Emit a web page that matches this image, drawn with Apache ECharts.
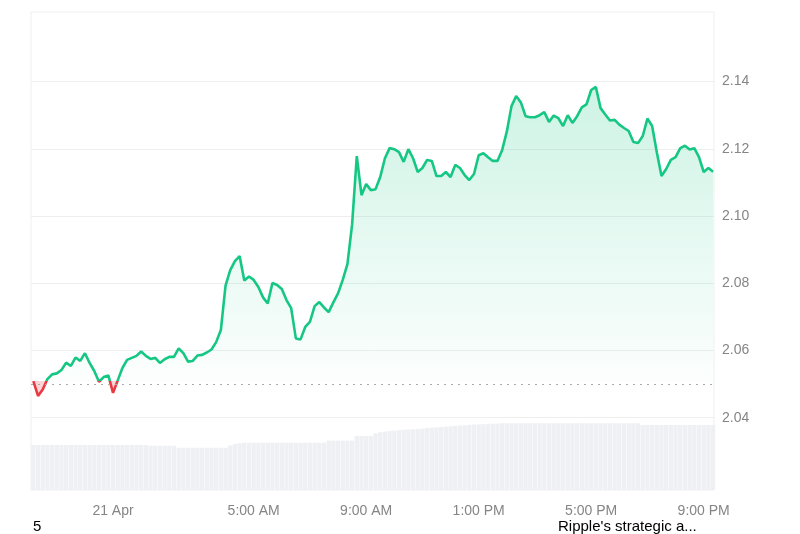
<!DOCTYPE html>
<html>
<head>
<meta charset="utf-8">
<script src="https://cdn.jsdelivr.net/npm/echarts@6.0.0/dist/echarts.min.js"></script>
<style>
html,body{margin:0;padding:0;background:#fff;}
#chart{width:800px;height:534px;}
</style>
</head>
<body>
<div id="chart"></div>
<script>
// ---- data (10-minute steps from 20 Apr 21:10) ----
const prices = [
2.0509,2.0465,2.0484,2.0515,2.0529,2.0532,2.0542,2.0564,2.0554,2.0579,
2.0569,2.0592,2.0563,2.0539,2.0507,2.0521,2.0526,2.0474,2.0511,2.0548,
2.0572,2.0578,2.0584,2.0597,2.0584,2.0575,2.0578,2.0563,2.0574,2.0581,
2.0581,2.0606,2.0592,2.0567,2.0569,2.0585,2.0587,2.0594,2.0603,2.0625,
2.0661,2.0793,2.0839,2.0866,2.0881,2.0808,2.0820,2.0810,2.0789,2.0758,
2.0740,2.0801,2.0795,2.0783,2.0750,2.0726,2.0636,2.0633,2.0670,2.0685,
2.0732,2.0744,2.0728,2.0714,2.0743,2.0770,2.0810,2.0857,2.0975,2.1178,
2.1062,2.1095,2.1077,2.1080,2.1116,2.1172,2.1202,2.1199,2.1190,2.1161,
2.1199,2.1172,2.1131,2.1143,2.1167,2.1164,2.1119,2.1119,2.1131,2.1116,
2.1152,2.1143,2.1122,2.1107,2.1125,2.1181,2.1187,2.1175,2.1164,2.1164,
2.1196,2.1251,2.1327,2.1357,2.1338,2.1297,2.1294,2.1294,2.1300,2.1309,
2.1280,2.1299,2.1291,2.1268,2.1300,2.1277,2.1297,2.1323,2.1332,2.1375,
2.1384,2.1321,2.1302,2.1284,2.1286,2.1272,2.1262,2.1253,2.1220,2.1217,
2.1238,2.1290,2.1268,2.1190,2.1119,2.1140,2.1167,2.1175,2.1202,2.1209,
2.1198,2.1202,2.1175,2.1131,2.1143,2.1132
];
const volumes = [
2.54,2.54,2.54,2.54,2.54,2.54,2.54,2.54,2.54,2.54,
2.54,2.54,2.54,2.54,2.54,2.54,2.54,2.54,2.54,2.54,
2.54,2.54,2.54,2.54,2.54,2.50,2.50,2.50,2.50,2.50,
2.50,2.39,2.39,2.39,2.39,2.39,2.39,2.39,2.39,2.39,
2.39,2.39,2.52,2.60,2.64,2.67,2.67,2.67,2.67,2.67,
2.67,2.67,2.67,2.67,2.67,2.67,2.67,2.67,2.67,2.67,
2.67,2.67,2.67,2.79,2.79,2.79,2.79,2.79,2.79,3.05,
3.05,3.05,3.05,3.20,3.26,3.30,3.33,3.36,3.38,3.40,
3.42,3.43,3.45,3.47,3.50,3.52,3.54,3.56,3.58,3.60,
3.62,3.64,3.66,3.68,3.70,3.71,3.72,3.73,3.74,3.75,
3.77,3.77,3.77,3.77,3.77,3.77,3.77,3.77,3.77,3.77,
3.77,3.77,3.77,3.77,3.77,3.77,3.77,3.77,3.77,3.77,
3.77,3.77,3.77,3.77,3.77,3.77,3.77,3.77,3.77,3.77,
3.67,3.67,3.67,3.67,3.67,3.67,3.67,3.67,3.67,3.67,
3.67,3.67,3.67,3.67,3.67,3.67
];
const baseline = 2.0510;
const yTicks = [2.04, 2.06, 2.08, 2.10, 2.12, 2.14];
const xTickTimes = [[21,0,0],[21,5,0],[21,9,0],[21,13,0],[21,17,0],[21,21,0]]; // [day, hour, min]
const newsLabels = ['5', "Ripple's strategic a..."];

// ---- build ----
const startTs = new Date(2025, 3, 20, 21, 10).getTime();
const step = 10 * 60 * 1000;
const times = prices.map((_, i) => startTs + i * step);
const priceData = prices.map((p, i) => [times[i], p]);
const volData = volumes.map((v, i) => [times[i], v]);
const xMin = new Date(2025, 3, 20, 21, 5).getTime();
const xMax = new Date(2025, 3, 21, 21, 22).getTime();
const xTicks = xTickTimes.map(t => new Date(2025, 3, t[0], t[1], t[2]).getTime());

const maxP = Math.max(...prices);
const minLine = Math.min(...prices);

const GREEN = '#16c784', RED = '#ea3943';
const labelColor = '#858585';
const font = "'Liberation Sans', Arial, sans-serif";

function fmtTime(v) {
  const d = new Date(v);
  const h = d.getHours(), m = d.getMinutes();
  if (h === 0 && m === 0) return d.getDate() + ' Apr';
  const h12 = h % 12 === 0 ? 12 : h % 12;
  return h12 + ':' + String(m).padStart(2, '0') + ' ' + (h < 12 ? 'AM' : 'PM');
}

const chart = echarts.init(document.getElementById('chart'), null, {renderer: 'canvas'});
chart.setOption({
  animation: false,
  backgroundColor: '#ffffff',
  grid: {
    left: 31, right: 86, top: 12, bottom: 44,
    show: true, borderColor: '#efefef', borderWidth: 1,
    containLabel: false
  },
  xAxis: {
    type: 'value',
    min: xMin, max: xMax,
    axisLine: {show: false},
    axisTick: {show: false, customValues: xTicks},
    splitLine: {show: false},
    axisLabel: {
      customValues: xTicks,
      formatter: fmtTime,
      color: labelColor, fontSize: 14, fontFamily: font, margin: 14
    }
  },
  yAxis: [{
    type: 'value',
    position: 'right',
    min: 2.0185, max: 2.1607,
    axisLine: {show: false},
    axisTick: {show: false, customValues: yTicks},
    splitLine: {show: true, lineStyle: {color: '#eeeeee', width: 1}},
    axisLabel: {
      customValues: yTicks,
      formatter: v => v.toFixed(2),
      color: labelColor, fontSize: 14, fontFamily: font, margin: 8
    }
  }, {
    type: 'value',
    min: 0, max: 27,
    show: false,
    splitLine: {show: false}
  }],
  series: [{
    type: 'bar',
    yAxisIndex: 1,
    data: volData,
    barWidth: '92%',
    itemStyle: {color: '#eef0f4'},
    silent: true,
    z: 1
  }, {
    type: 'line',
    yAxisIndex: 0,
    data: priceData,
    showSymbol: false,
    symbol: 'none',
    smooth: false,
    lineStyle: {width: 2.6, color: GREEN},
    areaStyle: {origin: baseline, color: 'rgba(22,199,132,0.15)'},
    markLine: {
      silent: true,
      symbol: 'none',
      label: {show: false},
      lineStyle: {color: '#a9a9a9', type: [2, 5], width: 1.2},
      data: [{yAxis: baseline}]
    },
    z: 3
  }],
  graphic: [
    {type: 'text', x: 33, y: 527, style: {text: newsLabels[0], fill: '#000', fontSize: 15, fontFamily: font, verticalAlign: 'middle'}},
    {type: 'text', x: 558, y: 527, style: {text: newsLabels[1], fill: '#000', fontSize: 15, fontFamily: font, verticalAlign: 'middle'}}
  ]
});

// colour the line / area by position against the baseline (global pixel gradients)
const yTop = chart.convertToPixel({yAxisIndex: 0}, maxP);
const yBase = chart.convertToPixel({yAxisIndex: 0}, baseline);
const yBot = chart.convertToPixel({yAxisIndex: 0}, minLine) + 2;
const fb = (yBase - yTop) / (yBot - yTop);
chart.setOption({
  series: [{}, {
    lineStyle: {
      color: new echarts.graphic.LinearGradient(0, yTop, 0, yBot, [
        {offset: 0, color: GREEN},
        {offset: fb, color: GREEN},
        {offset: fb, color: RED},
        {offset: 1, color: RED}
      ], true)
    },
    areaStyle: {
      color: new echarts.graphic.LinearGradient(0, yTop, 0, yBot, [
        {offset: 0, color: 'rgba(22,199,132,0.30)'},
        {offset: fb, color: 'rgba(22,199,132,0.02)'},
        {offset: fb, color: 'rgba(234,57,67,0.30)'},
        {offset: 1, color: 'rgba(234,57,67,0.30)'}
      ], true)
    }
  }]
});
</script>
</body>
</html>
